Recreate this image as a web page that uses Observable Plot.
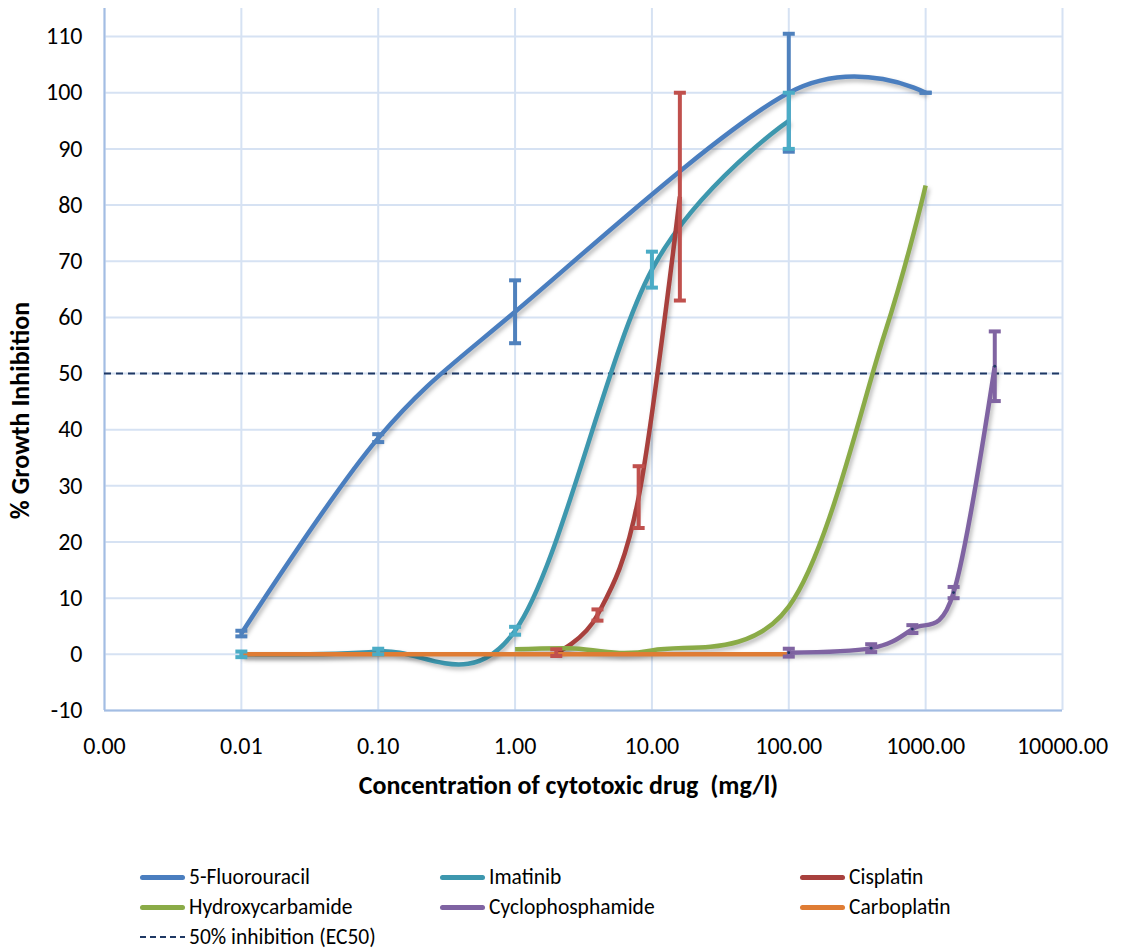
<!DOCTYPE html>
<html>
<head>
<meta charset="utf-8">
<script src="https://cdn.jsdelivr.net/npm/d3@7"></script>
<script src="https://cdn.jsdelivr.net/npm/@observablehq/plot@0.6"></script>
<style>
  html, body { margin: 0; padding: 0; background: #fff; }
  #wrap { position: relative; width: 1128px; height: 950px; font-family: Carlito, Lato, sans-serif; }
  .leg { position: absolute; display: flex; align-items: center; font-size: 21.5px; color: #000; white-space: nowrap; }
  .sw { width: 45px; height: 5px; border-radius: 3px; margin-right: 4px; }
  .dash { width: 45px; height: 2px; margin-right: 4px;
          background: repeating-linear-gradient(to right, #1f3864 0 6px, transparent 6px 10px); }
</style>
</head>
<body>
<div id="wrap"></div>
<script>
// ---- data ----
const xTicks = [0.001, 0.01, 0.1, 1, 10, 100, 1000, 10000];
const yTicks = [-10, 0, 10, 20, 30, 40, 50, 60, 70, 80, 90, 100, 110];

const conc5FU = [0.01, 0.1, 1, 100, 1000];
const val5FU  = [3.7, 38.5, 61, 100, 100];
const err5FU  = [0.5, 0.7, 5.6, 10.5, 0];

const concImatinib = [0.01, 0.1, 1, 10, 100];
const valImatinib  = [0, 0.5, 4.2, 68.5, 95];
const errImatinib  = [0.5, 0.5, 0.7, 3.2, 5];

const concCisplatin = [2, 4, 8, 16];
const valCisplatin  = [0.3, 7, 28, 81.5];
const errCisplatin  = [0.6, 1, 5.5, 18.5];

const concHydroxy = [1, 2.5, 10, 100, 500, 1000];
const valHydroxy  = [0.9, 1.1, 0.7, 8.5, 57, 83.5];

const concCyclo = [100, 400, 800, 1600, 3200];
const valCyclo  = [0.3, 1.1, 4.5, 11, 51.3];
const errCyclo  = [0.7, 0.7, 0.7, 1, 6.2];

const concCarbo = [0.01, 0.1, 1, 10, 100];
const valCarbo  = [0, 0, 0, 0, 0];

const ec50 = [50];

const seriesNames = ["5-Fluorouracil", "Imatinib", "Cisplatin", "Hydroxycarbamide", "Cyclophosphamide", "Carboplatin"];
const lineColors = ["#4a7ebf", "#3d97ae", "#a8403d", "#8aab47", "#7f63a2", "#df7c34"];
const errColors  = ["#4f81bd", "#4bacc6", "#c0504d", "#9bbb59", "#8064a2", "#f79646"];

// ---- build tables ----
function pts(c, v, e) { return c.map((x, i) => ({x, y: v[i], e: e ? e[i] : 0})); }
const s5FU = pts(conc5FU, val5FU, err5FU);
const sIma = pts(concImatinib, valImatinib, errImatinib);
const sCis = pts(concCisplatin, valCisplatin, errCisplatin);
const sHyd = pts(concHydroxy, valHydroxy);
const sCyc = pts(concCyclo, valCyclo, errCyclo);
const sCar = pts(concCarbo, valCarbo);

const cap = { draw(ctx, size) { ctx.moveTo(-6, 0); ctx.lineTo(6, 0); } };

function errMarks(data, color) {
  const caps = data.flatMap(p => [{x: p.x, y: p.y + p.e}, {x: p.x, y: p.y - p.e}]);
  return [
    Plot.ruleX(data.filter(p => p.e > 0), {x: "x", y1: p => p.y - p.e, y2: p => p.y + p.e, stroke: color, strokeWidth: 4}),
    Plot.dot(caps, {x: "x", y: "y", symbol: cap, r: 4, stroke: color, strokeWidth: 4, fill: "none"})
  ];
}

const lineOpts = (color) => ({x: "x", y: "y", stroke: color, strokeWidth: 4.5, curve: "cardinal", strokeLinecap: "butt"});

const fontFamily = "Carlito, Lato, sans-serif";

const chart = Plot.plot({
  width: 1128,
  height: 810,
  marginLeft: 104,
  marginRight: 66,
  marginTop: 8,
  marginBottom: 100,
  x: {type: "log", domain: [0.001, 10000]},
  y: {domain: [-10, 115]},
  style: {fontFamily, fontSize: "24px", color: "#000", background: "#fff", overflow: "visible"},
  marks: [
    Plot.gridX(xTicks, {stroke: "#d6e2f3", strokeOpacity: 1, strokeWidth: 2}),
    Plot.gridY(yTicks, {stroke: "#d6e2f3", strokeOpacity: 1, strokeWidth: 2}),
    Plot.ruleX([xTicks[0]], {stroke: "#a3bde3", strokeWidth: 2}),
    Plot.ruleY([yTicks[0]], {stroke: "#a3bde3", strokeWidth: 2}),
    Plot.axisX(xTicks, {tickSize: 0, tickPadding: 26, tickFormat: d3.format(".2f"), label: null, fontSize: 24}),
    Plot.axisY(yTicks, {tickSize: 0, tickPadding: 22, tickFormat: d => String(d), label: null, fontSize: 24}),
    Plot.ruleY(ec50, {stroke: "#1f3864", strokeWidth: 2, strokeDasharray: "7,5"}),
    Plot.line(s5FU, lineOpts(lineColors[0])),
    Plot.line(sIma, lineOpts(lineColors[1])),
    Plot.line(sCis, lineOpts(lineColors[2])),
    Plot.line(sHyd, lineOpts(lineColors[3])),
    Plot.line(sCyc, lineOpts(lineColors[4])),
    Plot.line(sCar, lineOpts(lineColors[5])),
    ...errMarks(s5FU, errColors[0]),
    ...errMarks(sIma, errColors[1]),
    ...errMarks(sCis, errColors[2]),
    ...errMarks(sCyc, errColors[4]),
    Plot.dot(sCyc, {x: "x", y: "y", r: 1.4, fill: "#1f3864"}),
    Plot.text(["Concentration of cytotoxic drug\u00a0 (mg/l)"], {frameAnchor: "bottom", dx: -15, dy: 75, fontWeight: "bold", fontSize: 26, textAnchor: "middle", lineAnchor: "middle"}),
    Plot.text(["% Growth Inhibition"], {frameAnchor: "left", dx: -84, dy: 51, rotate: -90, fontWeight: "bold", fontSize: 26, textAnchor: "middle", lineAnchor: "middle"})
  ]
});

chart.querySelectorAll('g[aria-label="line"]').forEach(g => {
  g.style.filter = "drop-shadow(2px 3px 2px rgba(0,0,0,0.28))";
});
chart.querySelectorAll('g[aria-label="rule"]').forEach(g => {
  if (g.querySelector('line[stroke-dasharray]')) g.style.filter = "drop-shadow(1px 3px 2px rgba(0,0,0,0.18))";
});

const wrap = document.getElementById("wrap");
wrap.appendChild(chart);

// ---- legend ----
const colsX = [140, 440, 800];
const rowsY = [877, 907, 937];
seriesNames.forEach((name, i) => {
  const el = document.createElement("div");
  el.className = "leg";
  el.style.left = colsX[i % 3] + "px";
  el.style.top = (rowsY[Math.floor(i / 3)] - 13) + "px";
  el.style.height = "26px";
  const sw = document.createElement("div");
  sw.className = "sw";
  sw.style.background = lineColors[i];
  el.appendChild(sw);
  const t = document.createElement("span");
  t.textContent = name;
  el.appendChild(t);
  wrap.appendChild(el);
});
{
  const el = document.createElement("div");
  el.className = "leg";
  el.style.left = colsX[0] + "px";
  el.style.top = (rowsY[2] - 13) + "px";
  el.style.height = "26px";
  const sw = document.createElement("div");
  sw.className = "dash";
  el.appendChild(sw);
  const t = document.createElement("span");
  t.textContent = "50% inhibition (EC50)";
  el.appendChild(t);
  wrap.appendChild(el);
}
</script>
</body>
</html>
